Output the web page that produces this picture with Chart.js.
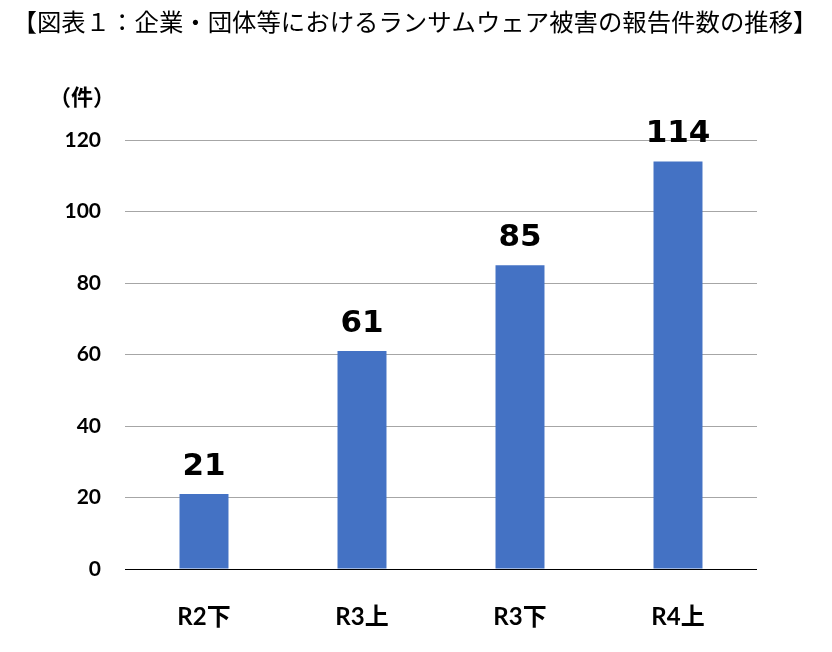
<!DOCTYPE html>
<html>
<head>
<meta charset="utf-8">
<script src="https://cdn.jsdelivr.net/npm/chart.js@4"></script>
<style>
  html, body { margin: 0; padding: 0; background: #fff; }
  #c { display: block; }
</style>
</head>
<body>
<canvas id="c" width="832" height="652"></canvas>
<script>
const titleText = "【図表１：企業・団体等におけるランサムウェア被害の報告件数の推移】";
const unitLabel = "（件）";
const categories = ["R2下", "R3上", "R3下", "R4上"];
const counts = [21, 61, 85, 114];
const yTicks = [0, 20, 40, 60, 80, 100, 120];

const tickFont = "Lato, 'Noto Sans CJK JP', sans-serif";

// タイトル・単位・数値ラベル
const extrasPlugin = {
  id: "extras",
  afterDraw(chart) {
    const ctx = chart.ctx;
    ctx.save();
    ctx.fillStyle = "#000";
    ctx.textAlign = "center";
    ctx.textBaseline = "middle";
    ctx.font = "400 24.4px 'Noto Sans CJK JP', sans-serif";
    ctx.fillText(titleText, 415, 22);

    ctx.font = "bold 22px " + tickFont;
    ctx.fillText(unitLabel, 82, 98);

    ctx.font = "bold 31px 'DejaVu Sans', sans-serif";
    ctx.textBaseline = "alphabetic";
    const meta = chart.getDatasetMeta(0);
    meta.data.forEach((bar, i) => {
      ctx.fillText(String(counts[i]), bar.x, bar.y - 19);
    });
    ctx.restore();
  }
};

new Chart(document.getElementById("c"), {
  type: "bar",
  data: {
    labels: categories,
    datasets: [{
      data: counts,
      backgroundColor: "#4472C4",
      borderWidth: 0,
      categoryPercentage: 1,
      barPercentage: 0.31
    }]
  },
  options: {
    responsive: false,
    animation: false,
    layout: { padding: { top: 140, right: 75, bottom: 0, left: 0 } },
    plugins: {
      legend: { display: false },
      tooltip: { enabled: false },
      title: { display: false }
    },
    scales: {
      x: {
        afterFit: s => { s.height = 83; },
        grid: { display: false, drawTicks: false },
        border: { display: false },
        ticks: {
          padding: 34,
          color: "#000",
          font: { size: 24, weight: "bold", family: tickFont }
        }
      },
      y: {
        min: 0,
        max: 120,
        afterFit: s => { s.width = 125; },
        afterBuildTicks: s => { s.ticks = yTicks.map(v => ({ value: v })); },
        grid: {
          drawTicks: false,
          color: c => c.tick && c.tick.value === 0 ? "#000" : "#a6a6a6",
          lineWidth: 1
        },
        border: { display: false },
        ticks: {
          padding: 24,
          color: "#000",
          font: { size: 21, weight: "bold", family: tickFont }
        }
      }
    }
  },
  plugins: [extrasPlugin]
});
</script>
</body>
</html>
